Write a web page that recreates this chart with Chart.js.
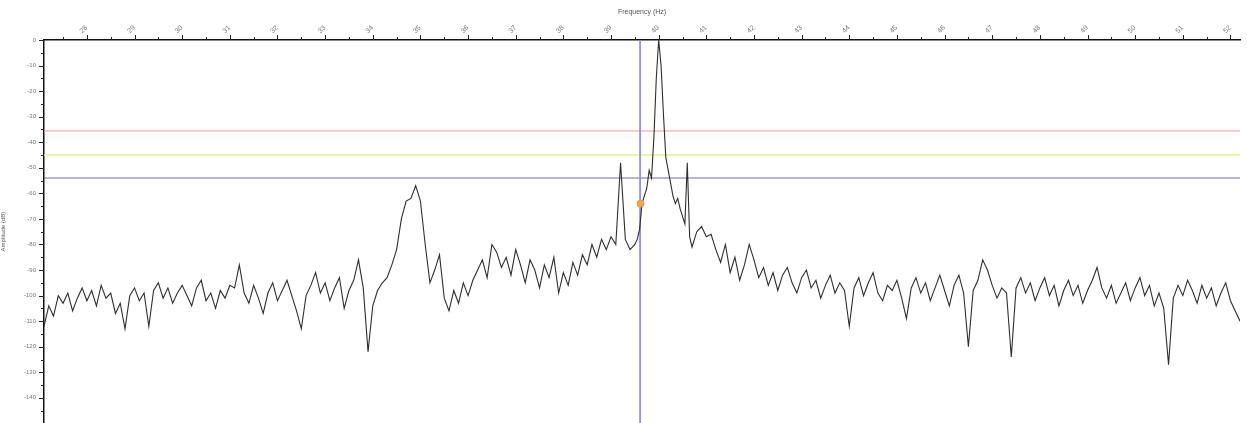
<!DOCTYPE html>
<html>
<head>
<meta charset="utf-8">
<script src="https://cdn.jsdelivr.net/npm/chart.js@4.4.1/dist/chart.umd.min.js"></script>
<style>
  html, body { margin: 0; padding: 0; background: #fff; overflow: hidden; }
  #wrap { width: 1247px; height: 435px; }
</style>
</head>
<body>
<div id="wrap"><canvas id="spectrum"></canvas></div>
<script>
// Espectro leído a ojo de la imagen
const freqs = [
  27.1, 27.2, 27.3, 27.4, 27.5, 27.6, 27.7, 27.8, 27.9, 28.0,
  28.1, 28.2, 28.3, 28.4, 28.5, 28.6, 28.7, 28.8, 28.9, 29.0,
  29.1, 29.2, 29.3, 29.4, 29.5, 29.6, 29.7, 29.8, 29.9, 30.0,
  30.1, 30.2, 30.3, 30.4, 30.5, 30.6, 30.7, 30.8, 30.9, 31.0,
  31.1, 31.2, 31.3, 31.4, 31.5, 31.6, 31.7, 31.8, 31.9, 32.0,
  32.1, 32.2, 32.3, 32.4, 32.5, 32.6, 32.7, 32.8, 32.9, 33.0,
  33.1, 33.2, 33.3, 33.4, 33.5, 33.6, 33.7, 33.8, 33.9, 34.0,
  34.1, 34.2, 34.3, 34.4, 34.5, 34.6, 34.7, 34.8, 34.9, 35.0,
  35.1, 35.2, 35.3, 35.4, 35.5, 35.6, 35.7, 35.8, 35.9, 36.0,
  36.1, 36.2, 36.3, 36.4, 36.5, 36.6, 36.7, 36.8, 36.9, 37.0,
  37.1, 37.2, 37.3, 37.4, 37.5, 37.6, 37.7, 37.8, 37.9, 38.0,
  38.1, 38.2, 38.3, 38.4, 38.5, 38.6, 38.7, 38.8, 38.9, 39.0,
  39.1, 39.2, 39.3, 39.4,
  39.5, 39.55, 39.6, 39.65, 39.7, 39.75, 39.8, 39.85, 39.9, 39.95,
  40.0, 40.05, 40.1, 40.15, 40.2, 40.25, 40.3, 40.35, 40.4, 40.45,
  40.5, 40.55, 40.6, 40.65, 40.7, 40.8, 40.9, 41.0,
  41.1, 41.2, 41.3, 41.4, 41.5, 41.6, 41.7, 41.8, 41.9, 42.0,
  42.1, 42.2, 42.3, 42.4, 42.5, 42.6, 42.7, 42.8, 42.9, 43.0,
  43.1, 43.2, 43.3, 43.4, 43.5, 43.6, 43.7, 43.8, 43.9, 44.0,
  44.1, 44.2, 44.3, 44.4, 44.5, 44.6, 44.7, 44.8, 44.9, 45.0,
  45.1, 45.2, 45.3, 45.4, 45.5, 45.6, 45.7, 45.8, 45.9, 46.0,
  46.1, 46.2, 46.3, 46.4, 46.5, 46.6, 46.7, 46.8, 46.9, 47.0,
  47.1, 47.2, 47.3, 47.4, 47.5, 47.6, 47.7, 47.8, 47.9, 48.0,
  48.1, 48.2, 48.3, 48.4, 48.5, 48.6, 48.7, 48.8, 48.9, 49.0,
  49.1, 49.2, 49.3, 49.4, 49.5, 49.6, 49.7, 49.8, 49.9, 50.0,
  50.1, 50.2, 50.3, 50.4, 50.5, 50.6, 50.7, 50.8, 50.9, 51.0,
  51.1, 51.2, 51.3, 51.4, 51.5, 51.6, 51.7, 51.8, 51.9, 52.0,
  52.1, 52.2
]

const amps = [
  -112, -104, -108, -100, -103, -99, -106, -101, -97, -102,
  -98, -104, -96, -101, -99, -107, -103, -113, -100, -97,
  -102, -99, -112, -98, -95, -101, -97, -103, -99, -96,
  -100, -104, -97, -94, -102, -99, -105, -98, -101, -96,
  -97, -88, -99, -103, -96, -101, -107, -99, -95, -102,
  -98, -94, -100, -106, -113, -100, -96, -91, -99, -95,
  -102, -97, -93, -105, -98, -94, -86, -97, -122, -104,
  -98, -95, -93, -88, -82, -70, -63, -62, -57, -63,
  -80, -95, -90, -84, -101, -106, -98, -103, -95, -100,
  -94, -90, -86, -93, -80, -83, -89, -85, -92, -82,
  -88, -95, -86, -90, -97, -88, -93, -85, -99, -91,
  -96, -87, -92, -84, -88, -80, -85, -78, -82, -77,
  -80, -48, -78, -82,
  -80, -78, -74, -64, -61, -58, -51, -54, -38, -15,
  0, -10, -29, -46, -51, -56, -61, -64, -62, -66,
  -69, -72, -48, -77, -81, -75, -73, -77,
  -76, -82, -87, -80, -91, -85, -94, -88, -80, -86,
  -93, -89, -96, -91, -98, -92, -89, -95, -99, -93,
  -90, -97, -94, -101, -96, -92, -99, -95, -98, -112,
  -97, -93, -100, -95, -91, -99, -102, -96, -98, -94,
  -101, -109, -97, -93, -99, -95, -102, -97, -92, -98,
  -104, -96, -92, -99, -120, -98, -94, -86, -90, -96,
  -101, -97, -99, -124, -97, -93, -99, -95, -102, -97,
  -93, -100, -96, -104, -98, -94, -100, -96, -103, -98,
  -94, -89, -97, -101, -96, -103, -99, -95, -102, -97,
  -93, -100, -96, -104, -99, -105, -127, -101, -96, -100,
  -94, -98, -103, -96, -101, -97, -104, -99, -95, -102,
  -106, -110
]

// Marcas del eje superior (Hz) y del eje izquierdo (dB)
const freqTicks = [28, 29, 30, 31, 32, 33, 34, 35, 36, 37, 38, 39, 40, 41, 42, 43, 44, 45, 46, 47, 48, 49, 50, 51, 52]
const dbTicks = [0, -10, -20, -30, -40, -50, -60, -70, -80, -90, -100, -110, -120, -130, -140]

// Niveles de referencia y cursor
const redLevel = -35.6
const yellowLevel = -45
const blueLevel = -54
const cursorFreq = 39.61
const cursorPoint = { x: 39.62, y: -64 }

const X_MIN = 27.1
const X_MAX = 52.2
const Y_MIN = -150
const Y_MAX = 0

function hLine(level) {
  return [{ x: X_MIN, y: level }, { x: X_MAX, y: level }]
}

// Dibuja las marcas mayores y menores de ambos ejes
const tickMarks = {
  id: "tickMarks",
  afterDraw(chart) {
    const { ctx, chartArea, scales } = chart
    const xs = scales.x
    const ys = scales.y
    ctx.save()
    ctx.strokeStyle = "#222"
    ctx.lineWidth = 1
    ctx.beginPath()
    for (let i = 0; i < freqTicks.length; i++) {
      const px = Math.round(xs.getPixelForValue(freqTicks[i])) + 0.5
      ctx.moveTo(px, chartArea.top - 5)
      ctx.lineTo(px, chartArea.top)
      const half = freqTicks[i] - 0.5
      if (half > X_MIN) {
        const ph = Math.round(xs.getPixelForValue(half)) + 0.5
        ctx.moveTo(ph, chartArea.top - 3)
        ctx.lineTo(ph, chartArea.top)
      }
    }
    for (let i = 0; i < dbTicks.length; i++) {
      const py = Math.round(ys.getPixelForValue(dbTicks[i])) + 0.5
      ctx.moveTo(chartArea.left - 5, py)
      ctx.lineTo(chartArea.left, py)
      const half = dbTicks[i] - 5
      const ph = Math.round(ys.getPixelForValue(half)) + 0.5
      ctx.moveTo(chartArea.left - 3, ph)
      ctx.lineTo(chartArea.left, ph)
    }
    ctx.stroke()
    ctx.restore()
  },
}

function createSpectrumChart() {
  const ctx = document.getElementById("spectrum").getContext("2d")
  new Chart(ctx, {
    type: "scatter",
    data: {
      datasets: [
        {
          label: "Cursor",
          data: [cursorPoint],
          showLine: false,
          pointRadius: 3.5,
          pointBackgroundColor: "#f0a848",
          pointBorderColor: "#e89838",
          order: 0,
        },
        {
          label: "Espectro",
          data: freqs.map((f, i) => ({ x: f, y: amps[i] })),
          showLine: true,
          borderColor: "#2e2e2e",
          borderWidth: 1.1,
          pointRadius: 0,
          tension: 0,
          order: 1,
        },
        {
          label: "Marcador",
          data: [{ x: cursorFreq, y: Y_MAX }, { x: cursorFreq, y: Y_MIN }],
          showLine: true,
          borderColor: "#8c8ce6",
          borderWidth: 1,
          pointRadius: 0,
          order: 2,
        },
        {
          label: "Rojo",
          data: hLine(redLevel),
          showLine: true,
          borderColor: "#ee9a9a",
          borderWidth: 1.2,
          pointRadius: 0,
          order: 3,
        },
        {
          label: "Amarillo",
          data: hLine(yellowLevel),
          showLine: true,
          borderColor: "#eeee88",
          borderWidth: 1.5,
          pointRadius: 0,
          order: 4,
        },
        {
          label: "Azul",
          data: hLine(blueLevel),
          showLine: true,
          borderColor: "#6a6aa8",
          borderWidth: 1,
          pointRadius: 0,
          order: 5,
        },
      ],
    },
    options: {
      responsive: true,
      maintainAspectRatio: false,
      animation: false,
      layout: { padding: { top: 0, right: 7, bottom: 0, left: 0 } },
      plugins: {
        legend: { display: false },
        tooltip: { enabled: false },
      },
      scales: {
        x: {
          type: "linear",
          position: "top",
          min: X_MIN,
          max: X_MAX,
          afterFit: (scale) => { scale.height = 40 },
          afterBuildTicks: (scale) => {
            scale.ticks = freqTicks.map((v) => ({ value: v }))
          },
          grid: { display: false, drawTicks: false },
          border: { display: true, color: "#111", width: 1.5 },
          ticks: {
            autoSkip: false,
            minRotation: 45,
            maxRotation: 45,
            padding: 5,
            color: "#777",
            font: { family: "Liberation Sans", size: 7 },
          },
          title: {
            display: true,
            text: "Frequency (Hz)",
            color: "#555",
            font: { family: "Liberation Sans", size: 7 },
            padding: { top: 8, bottom: 0 },
          },
        },
        y: {
          min: Y_MIN,
          max: Y_MAX,
          afterFit: (scale) => { scale.width = 44 },
          afterBuildTicks: (scale) => {
            scale.ticks = dbTicks.map((v) => ({ value: v }))
          },
          grid: { display: false, drawTicks: false },
          border: { display: true, color: "#111", width: 1.5 },
          ticks: {
            autoSkip: false,
            padding: 8,
            color: "#777",
            font: { family: "Liberation Sans", size: 6 },
          },
          title: {
            display: true,
            text: "Amplitude (dB)",
            color: "#555",
            font: { family: "Liberation Sans", size: 6 },
            padding: { top: 0, bottom: 0 },
          },
        },
      },
    },
    plugins: [tickMarks],
  })
}

document.addEventListener("DOMContentLoaded", () => {
  createSpectrumChart()
})
</script>
</body>
</html>
